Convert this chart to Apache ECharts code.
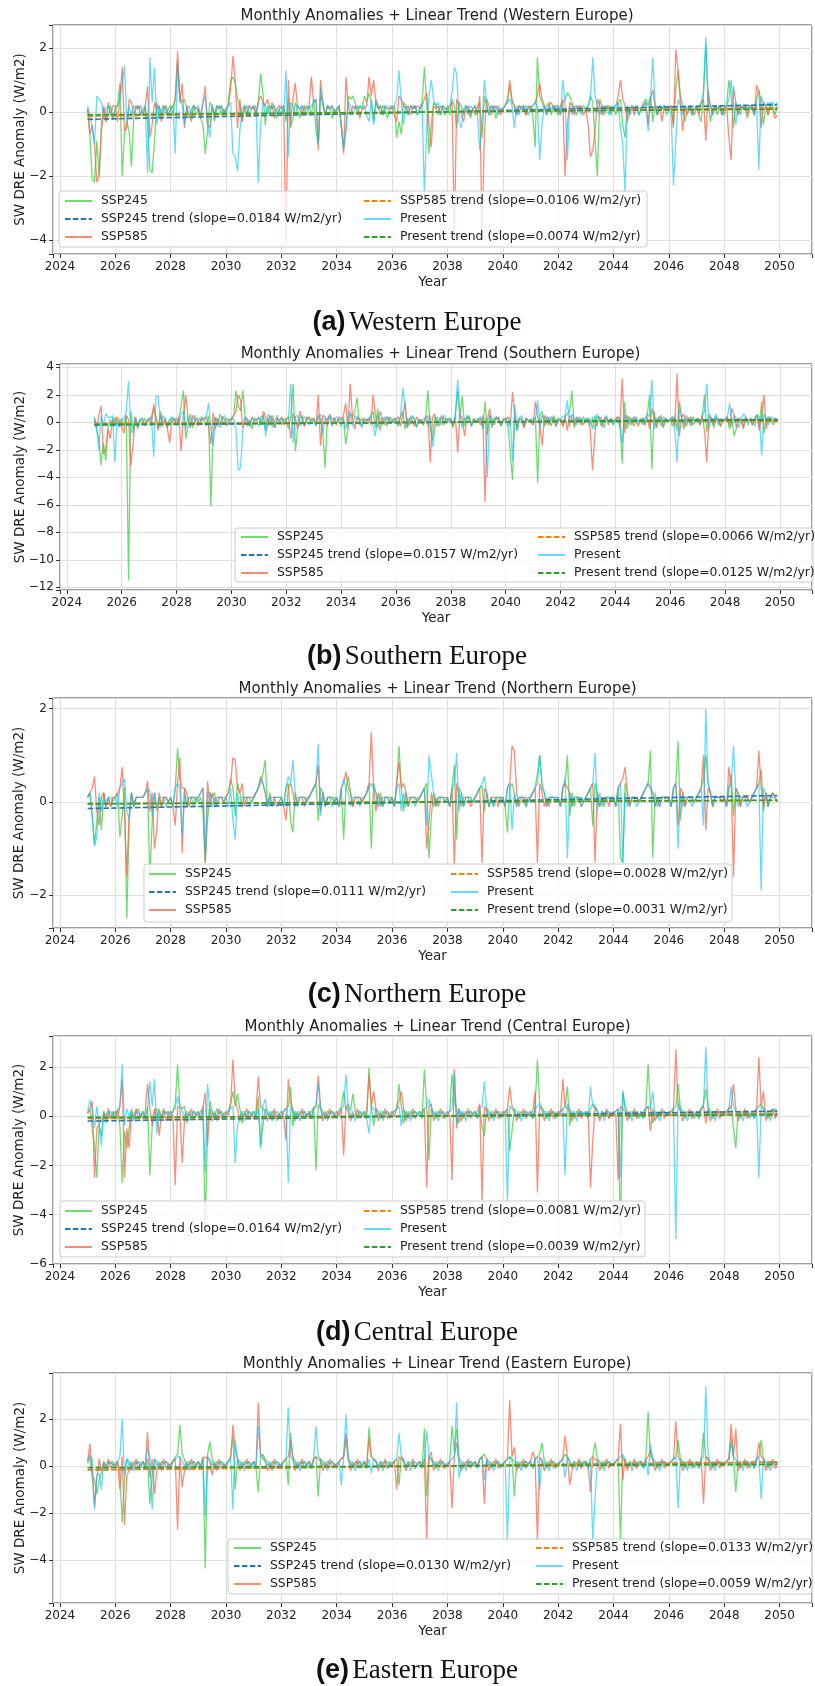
<!DOCTYPE html>
<html>
<head>
<meta charset="utf-8">
<script src="https://cdn.jsdelivr.net/npm/echarts@6/dist/echarts.min.js"></script>
<style>
  html, body { margin: 0; padding: 0; background: #fff; }
  #chart { width: 815px; height: 1686px; }
</style>
</head>
<body>
<div id="chart"></div>
<script>
// monthly anomalies, Jan 2025 .. Dec 2049, 12 values per year
const startYear = 2025;
const seriesNames = ['SSP245', 'SSP585', 'Present'];

// (a) Western Europe
const wSsp245 = [.1,-.7,-2.1,-2.2,-.9,-2,-.4,.1,-.3,-.1,.2,-.2, .1,.2,.9,-2,-.7,-.3,-.6,-1.7,-.2,.1,.2,-.1, -.1,.2,-.3,-1.8,-1.9,-.9,.3,-.2,.1,.2,-.1,.1, .2,-.1,.4,1.6,.5,.3,.4,.1,-.2,.1,.2,-.1, .1,-.2,-.4,-1.3,-.6,.3,.2,-.3,.1,.2,-.1,.1,
  -.1,.3,1,1.1,.9,.4,.2,-.3,.1,.2,-.1,.1, .2,-.1,.3,1.2,.6,-.4,.2,-.1,.3,.1,-.2,.1, -.1,.2,-.3,.4,-.5,-.2,.3,.1,-.2,.2,.1,-.1, .2,-.1,.4,-.6,-1,.5,.3,-.1,.2,.1,-.2,.1, -.1,.2,-.5,-1.1,-.6,.5,.4,.5,.3,-.1,.2,.1,
  .5,.3,.6,.3,-.3,.4,.2,-.1,.2,.1,-.2,.1, .1,.2,-.8,-.3,-.7,.3,.2,-.1,.2,.1,.2,-.1, .1,.3,1.4,.3,-1.3,-.4,.3,.2,-.1,.2,.1,-.1, .2,-.1,.4,.2,-.5,.3,.2,-.1,.2,.1,-.2,.1, -.1,.2,.3,-.8,.5,.2,-.1,.2,.1,-.2,.1,.1,
  .1,.2,.4,.8,.3,.2,-.1,.2,.1,.2,-.1,.1, .2,-.1,-1.1,1.7,.5,.3,.1,.2,.3,-.1,.2,.1, -.1,.2,.3,.4,.6,.5,.3,.1,-.1,.2,.1,.2, .1,.2,.5,.3,-.9,-2,.4,.2,-.1,.2,.1,-.1, .2,-.1,.3,.4,-.4,-.8,.2,-.1,.2,.1,.2,-.1,
  .1,.3,.4,.2,.5,-.3,.2,-.1,.2,.1,.2,-.1, .1,.2,-.4,.7,1.3,.5,.2,-.3,.1,.2,-.1,.1, .2,-.1,-.3,.6,2.1,.4,-.3,.1,.2,-.1,.2,.1, -.1,.2,1,.5,-.5,.3,-.1,.2,.1,.2,-.2,.1, .2,-.1,.4,.7,.3,-.4,.2,-.1,.3,.2,-.1,.2];
const wSsp585 = [.1,-.7,-.4,-1,-2.2,-2,-.6,.2,-.3,.3,-.1,.2, .2,-.3,.5,1.4,-.6,-.5,.4,.3,-.1,.2,.1,.2, -.1,.2,.8,-.8,-.4,.3,.1,.2,-.3,.1,.2,-.1, .1,.2,.4,1.9,.3,.9,-.5,.2,-.1,-.3,.2,.1, .1,-.2,.3,.8,-.4,-.5,.2,-.1,.2,.1,.2,-.1,
  .1,.2,.7,1.75,1,-.5,.4,-.3,.2,-.1,.2,.1, .2,-.1,.3,.5,.3,.2,.4,.1,.2,-.2,.1,.2, .1,.2,-4.2,1,-.4,.4,.9,.2,.1,-.1,.2,.1, .2,1.1,.3,.4,-1.2,1,.3,-.1,.2,.1,.2,-.1, .1,.2,-.4,-1.3,1.1,.2,-.1,.2,.1,.2,-.2,.1,
  .1,.2,1.1,.5,1,.3,.1,.2,-.1,.2,.1,.1, .2,-.1,-.3,.5,.4,.2,.1,.2,-.1,.2,.1,.2, .1,.2,.4,.6,-.4,-1.1,.2,.1,.2,-.1,.2,.1, .1,.2,.3,-4,.4,.2,-.1,-.3,.1,.2,-.1,.1, .2,-.1,.5,-4,-.7,.4,.2,-.1,.2,.1,.2,-.1,
  .1,.2,.3,1,.4,.2,-.1,.2,.1,.2,-.1,.2, .1,.2,.3,.5,.9,.4,.2,-.1,.2,.3,.1,.2, .2,-.1,.4,-2,-.4,.3,.2,-.1,.2,.1,.2,-.1, .1,-.4,-1.4,-1.2,-.6,.4,.2,-.1,.2,.1,.2,.1, .1,.2,.5,1,.4,.2,-.3,.1,.2,-.1,.2,.1,
  .1,.2,.3,-.4,.4,.7,.2,-.1,.2,-.3,.2,.1, .1,.2,-.5,1.95,1.3,.3,-.6,.2,-.1,.2,.1,-.1, .2,-.1,.3,.4,-.9,.7,.2,-.1,.2,.1,.2,-.1, .1,.2,-.8,-1.5,.8,.3,-.1,.2,.1,.2,-.1,.2, .2,-.1,.85,.6,-.5,.3,.2,-.1,.2,.1,-.2,-.1];
const wPresent = [.2,-.1,-.5,-1,.5,.4,.3,-.2,.1,.2,-.1,-.2, .1,.2,.4,.9,1.45,-.3,.2,-.1,.2,.1,.2,-.1, .1,.2,-1.9,1.7,.3,1.4,-.4,.2,-.1,.2,.1,-.1, .1,.2,-1.3,1.5,.4,.2,-.4,.1,.2,-.1,.2,.1, .2,-.1,.3,.5,-.4,-.8,.2,-.1,.2,.1,.2,-.1,
  .1,.2,.3,-1.3,-1.4,-1.85,-.6,.1,.2,-.1,.2,.1, .1,.2,-2.2,-.4,.3,.2,-.1,.2,.1,.2,-.1,.1, .2,-.1,1.3,-1.4,.3,.2,-.1,.2,.1,.2,-.1,.2, .1,.2,.3,.4,-1,.75,.2,-.1,.2,.1,.2,-.1, .1,.2,-.4,-1.2,-.5,.3,.2,-.1,.2,.1,.2,.1,
  .2,-.1,-.3,.4,-.4,.3,.1,.2,-.1,.2,.1,.2, .1,.2,.4,1.3,.3,-.4,.2,-.1,.2,.1,.2,-.1, .1,.3,-2.6,-.5,.5,1,.4,.2,.3,-.1,.2,.1, .1,.2,.6,1.4,1.2,-.3,-.5,.1,.2,-.1,.2,.1, .2,-.1,-1.2,-.4,1,.3,-.1,.2,.1,.2,-.1,.1,
  .1,.2,.3,.4,.2,-.5,.2,-.1,.2,.1,.2,-.1, .1,.2,.3,.2,-1.5,-.4,.2,-.1,.2,.1,.2,.1, .2,-.1,1,.3,-1.5,.2,-.1,.2,.1,.2,-.1,.1, .1,.2,.4,1.7,.5,.2,-.1,.2,.1,.2,-.1,.2, .1,.2,.3,-.5,-1,-2.5,.2,-.1,.2,.1,.2,-.1,
  .1,.2,.3,-.6,.4,1.7,.3,-.1,.2,.1,.2,.1, .2,-.1,-2.3,-.9,.4,.2,-.1,.2,.1,.2,-.1,.1, .1,.2,.3,.6,2.35,.4,.2,-.1,.2,.1,.2,-.1, .1,.2,.4,1,.3,-.4,.2,-.1,.2,.1,.2,.1, .2,-.1,.3,-1.8,.5,.3,.2,.3,.2,.3,.2,.3];
const wTrend245 = [-0.23, 0.23];
const wTrend585 = [-0.13, 0.13];
const wTrendPresent = [-0.09, 0.09];
const wSlopes = ['0.0184', '0.0106', '0.0074'];

// (b) Southern Europe
const sSsp245 = [.3,-.5,-1.2,-3.1,-1.5,-2.8,-.4,.2,-.3,.4,-.2,.1, .2,-.3,.5,-11.5,.8,-.6,.3,-.5,.2,-.2,.3,0, .1,.4,1,.3,-.6,.8,-.2,.3,-.4,.2,0,.3, -.2,.3,1.2,2.3,-1.2,-.3,.6,-.4,.2,.3,-.2,.4, .2,-.3,.5,-6.1,-.8,.4,-.3,.6,.2,-.2,.3,.1,
  .3,.5,2.3,1.2,.8,2.3,.4,-.3,.2,-.5,.3,.2, -.3,.4,.5,-.6,.3,-.2,.5,-.4,.3,.1,-.2,.3, .2,-.5,.4,2.8,-2.1,-.4,.3,.5,-.3,.2,.4,-.1, .3,-.2,.5,.2,-.8,-3.3,.3,.4,-.2,.3,0,.2, -.3,.4,-1.6,-.5,.6,.4,.8,1.8,-.2,.3,-.1,.2,
  .1,.5,.8,-.4,1,-.6,.3,.2,-.3,.4,.2,0, .2,-.3,.4,.8,-.5,.3,-.2,.4,.3,-.4,.2,.1, -.2,.3,2.3,-.5,-1.3,.4,.2,-.3,.5,.2,-.1,.3, .2,-.4,.6,2.3,.4,1.9,-.3,.5,.2,-.2,.3,0, .1,.3,-.4,1.5,-.9,.5,.3,-.2,.4,.1,-.3,.2,
  .3,-.2,-2.2,-4.2,.5,-.6,.3,.2,-.4,.3,.1,.2, -.2,.4,-4.4,.5,.8,-.3,.4,.2,-.3,.5,.1,.3, .2,-.3,.4,.6,.8,2.3,-.4,.3,.2,-.2,.4,.1, .3,.2,-.5,.5,-.3,.4,.2,-.4,.3,.1,.2,-.2, .1,.4,.3,-3,1.5,-.5,.4,.2,-.3,.3,.1,.2,
  -.2,.3,.6,2,-3.4,.8,-.3,.4,.2,-.4,.3,0, .2,-.3,.5,-.6,1.5,.4,-.5,.3,.2,-.2,.4,.1, .3,-.2,.4,2,-.7,.6,.3,-.4,.2,.3,-.3,.2, .1,.4,-.5,.3,-1,-.4,.3,.2,-.3,.4,.1,.2, -.2,.3,.6,-.4,1.5,-.8,.3,.4,.2,-.2,.3,.1];
const sSsp585 = [.2,-.4,.5,1.2,-2.3,-2,-.5,-1.2,.3,-.2,.4,.1, -.3,-.8,.5,.2,-3.2,-1.5,.4,-.3,.2,.3,-.2,.1, .3,-.2,1.3,.4,-.5,.6,-.3,.2,-.5,-1.5,.3,.2, -.2,.4,-2.1,.5,2,.3,-.4,.5,.2,-.3,.3,.1, .2,.4,-.3,-1.6,.7,-.5,.3,-.2,.4,.2,-.3,.2,
  .1,.5,.8,2,1.6,-.4,.3,.2,-.3,.4,.1,.2, .3,-.2,.8,.4,-.3,.5,.2,-.4,.3,.1,.4,-.2, .2,.4,-1.2,.6,.3,-.5,.8,.2,-.3,.4,.2,.1, .3,-.2,2,-1.7,.5,.4,-.3,.6,.2,.3,-.2,.4, .2,.5,1.4,-.4,2.8,.3,-.5,.4,.2,-.3,.3,.1,
  .3,-.2,2,.5,-.4,.8,.3,-.2,.4,.2,-.1,.3, .2,.4,-.3,.6,1.5,-.4,.3,.2,-.3,.4,.1,.2, -.2,.3,.5,-2.9,.4,.6,-.3,.2,.4,-.2,.3,.1, .2,-.3,.4,-2.2,.6,.3,-1,.2,.4,-.3,.2,.1, .3,-.2,.5,-5.8,.2,1,-.4,.3,.2,.4,-.2,.1,
  .2,.4,-.3,2.2,.5,-.5,.3,.2,-.4,.3,.1,.2, -.2,1.5,.4,-.3,-1.7,.5,.3,-.2,.4,.2,-.3,.1, .2,-.3,.4,-.6,.5,.3,-.2,.4,.1,.3,-.2,.2, .1,-.5,-3.5,-1,.4,.3,-.3,.2,.4,-.2,.3,.1, .2,.4,-.3,3.2,-.8,.5,.3,-.2,.4,.1,-.3,.2,
  .3,-.2,.4,-.5,1,.3,-.4,.2,.5,-.3,.2,.1, .2,.4,-.3,3.5,-1,.4,.6,-.3,.2,.4,-.2,.1, .3,-.2,.5,-.6,-2.9,.4,.3,-.2,.4,.2,-.3,.1, .2,.4,-.3,1,.5,-.4,.3,.2,-.5,.3,.1,.2, -.2,.3,.5,-.6,.4,2,-.5,.3,.2,.1,0,.1];
const sPresent = [.4,-.3,-2,.5,-.2,.6,.4,.3,.5,-2.9,.2,-.4, .3,.2,.8,3,-.5,-.8,.4,-.3,.2,.3,-.2,.1, .2,.4,-2.5,1.9,1.9,-.4,.5,.3,-.3,.2,.4,.1, .3,-.2,.6,.8,-.5,.4,-.3,.2,.5,.1,-.2,.3, .2,.4,1.4,-.3,-1.7,.3,.2,-.4,.3,.5,-.2,.1,
  .3,.2,-.5,-3.5,-3.3,-.6,.4,.2,-.3,.3,.1,.2, .4,-.2,.5,-1,.6,.3,-.4,.2,.5,-.2,.3,.1, .2,.3,2.8,-1.5,.4,.5,-.3,.2,.4,.1,-.2,.3, .2,-.3,.4,.6,-.8,.3,.2,.5,-.3,.2,.4,.1, .3,.2,-.5,.4,.8,-.3,.5,.2,.3,-.4,.2,.1,
  .2,.4,-.3,-1,.5,.3,-.2,.4,.2,.3,-.1,.2, .3,-.2,.5,2.5,1,-.4,.3,.5,.2,-.3,.2,.1, .2,.4,-.3,.5,-1.8,-.5,.4,.3,-.2,.5,.2,.1, .3,-.2,.6,3.1,.5,-.4,.3,.2,.5,-.3,.2,.1, .2,.4,-.5,.3,-4,.5,-.3,.2,.4,.1,-.2,.3,
  .2,-.3,.4,-2.8,1.3,-.6,.3,.5,-.2,.3,.1,.2, .3,.2,1.6,-.4,.5,.3,-.2,.4,.1,.3,-.3,.2, .2,.4,.5,1.6,-.3,.6,.3,-.2,.4,.2,.1,.2, .3,-.2,.4,-.5,.6,.3,-.3,.2,.5,.1,.3,-.2, .2,.3,-.4,-1.5,.5,.4,-.2,.3,.2,.4,-.1,.2,
  .3,-.2,.6,.4,3.1,-.5,.3,.2,-.3,.4,.2,.1, .2,.4,-.5,-2.9,1,.3,-.2,.5,.3,-.3,.2,.1, .3,-.2,.5,.8,2.8,-.4,.3,.2,.6,-.2,.3,.1, .2,.4,1.4,-.3,.5,.3,-.4,.2,.6,.4,-.2,.3, .2,-.3,.5,.4,-2.4,.6,.3,-.2,.4,.3,.1,.2];
const sTrend245 = [-0.2, 0.2];
const sTrend585 = [-0.08, 0.08];
const sTrendPresent = [-0.16, 0.16];
const sSlopes = ['0.0157', '0.0066', '0.0125'];

// (c) Northern Europe
const nSsp245 = [.1,.2,-.3,-.9,-.4,.1,-.6,.2,-.1,.1,-.1,.1, .1,.2,-.75,-.3,.3,-2.5,-.4,.2,-.1,.1,.1,.1, .1,.2,.25,-1.7,-.4,.2,-.2,.1,-.1,.1,.1,0, .1,-.1,.3,1.15,.5,.3,.3,-.1,.1,.1,-.1,.1, 0,.1,-.2,-1.3,-.4,.2,.1,.2,-.1,.1,.1,0,
  .1,.2,.5,.3,-.3,.4,.2,-.1,.1,.1,.1,0, .1,.2,.3,.4,.6,.9,-.1,.2,-.1,.1,.1,.1, .1,-.1,.3,.4,-.4,-.65,.2,-.1,.1,.1,.1,0, .1,.2,.3,.4,-.4,.3,.2,-.1,.1,.1,-.1,.1, .1,-.1,.3,-.8,.3,.55,.2,-.1,.1,.1,.1,0,
  .1,.2,.4,-1,.4,.2,-.1,.2,-.1,.1,.1,.1, .1,-.1,.4,1.2,.3,-.2,.2,-.1,.1,.1,.1,0, .1,.2,.3,.4,-1.2,-.3,.2,-.1,.1,.1,.1,0, .1,-.1,.3,.8,-.8,.3,.2,-.1,.1,.1,.1,0, .1,.2,.3,.35,-.2,.2,-.1,.1,-.1,.1,.1,0,
  .1,-.1,-.65,.3,.4,.2,-.1,.1,.1,.1,-.1,.1, .1,.2,.3,.6,1,.4,.2,-.1,.1,.1,.1,0, .1,-.1,.3,.4,1,-.3,.2,-.1,.1,.1,.1,0, .1,.2,.3,-.5,.4,.2,-.1,.1,-.1,.1,.1,.1, .1,-.1,.3,-1.2,-1.3,.4,.2,-.1,.1,.1,.1,0,
  .1,.2,.3,.4,1.1,-1.2,.2,-.1,.1,.1,.1,0, .1,-.1,.3,.4,1.3,-.4,.2,-.1,.1,.1,.1,0, .1,.2,.3,.5,1,.4,.2,-.1,.1,.1,.1,0, .1,-.1,.3,.6,-.3,.3,.2,-.1,.1,.1,.1,0, .1,.2,.3,.4,.7,-.2,.2,-.1,.1,.2,.1,0];
const nSsp585 = [.1,.2,.3,.55,-.2,-.5,.1,.2,-.1,.1,-.1,.1, .1,.2,.3,.75,-.3,-1.6,-.3,.2,-.1,.1,.1,.1, .1,.2,.45,-.2,.2,-1,-.6,.2,-.1,.1,.1,0, .1,-.1,-.5,.4,.95,-1.1,.3,.2,-.1,.1,.1,.1, .1,.2,.3,-1.3,.45,-.1,.2,-.1,.1,.1,.1,0,
  .1,.2,.4,.95,.9,.3,.2,.4,-.1,.1,.1,.1, .1,.2,.3,.55,.4,.2,-.1,.1,.1,.1,-.1,0, .1,-.1,-.4,.3,.4,.2,-.1,.1,.1,.1,-.1,.1, .1,.2,.3,.4,.8,-.2,.2,-.1,.1,.1,.1,0, .1,-.1,.3,.4,.65,.3,.2,-.1,.1,.1,.1,0,
  .1,.2,.4,1.5,.3,-.2,.2,-.1,.1,.1,.1,0, .1,-.1,.4,.85,.3,.4,.2,-.1,.1,.1,.1,0, .1,.2,.3,-1,-.4,.2,-.1,.1,-.1,.1,.1,.1, .1,-.1,.3,-1.4,.4,.2,-.1,.1,.1,.1,-.1,0, .1,.2,.3,-1.3,.3,.2,-.1,.1,.1,.1,-.1,.1,
  .1,-.1,.3,.4,1.2,1.1,.2,-.1,.1,.1,.1,0, .1,.2,.3,-1.3,.4,.2,-.1,.1,-.1,.1,.1,.1, .1,-.1,.3,.4,.3,.2,-.1,.1,.1,.1,-.1,0, .1,.2,.3,.4,-1.3,.2,-.1,.1,.1,.1,-.1,.1, .1,-.1,.3,.4,.5,.75,.2,-.1,.1,.1,.1,0,
  .1,.2,.3,.4,.3,.2,-.1,.1,-.1,.1,.1,.1, .1,-.1,.3,.4,-.5,.3,.2,-.1,.1,.1,.1,0, .1,.2,.3,1,-.6,.3,.2,-.1,.1,.1,.1,0, .1,-.1,.75,.4,-1.6,.3,.2,-.1,.1,.1,.1,0, .1,.2,.3,1.1,.3,-.1,.2,-.1,.1,.2,.1,0];
const nPresent = [.1,.2,-.3,-.95,-.75,.2,-.2,.1,-.1,.1,.1,0, .1,-.1,.3,.4,.5,-.2,-.35,.2,-.1,.1,.1,.1, .1,.2,.3,.25,-.3,.2,-.1,.1,.1,.1,-.1,0, .1,-.1,.3,.4,.3,-.7,.2,-.1,.1,.1,.1,0, .1,.2,.3,-1.2,.2,.2,-.1,.1,-.1,.1,.1,.1,
  .1,-.1,.3,-.4,-.8,.2,-.1,.1,.1,.1,-.1,0, .1,.2,.3,.5,.4,.2,-.1,.1,-.1,.1,.1,.1, .1,-.1,.3,.55,.4,.9,.2,-.1,.1,.1,.1,0, .1,.2,.3,.4,1.25,-.3,.2,-.1,.1,.1,.1,0, .1,-.1,.3,.5,.3,.2,-.1,.1,.1,.1,-.1,.1,
  .1,.2,.3,.4,.3,.2,-.1,.1,-.1,.1,.1,0, .1,-.1,.3,.4,-.2,.2,-.1,.1,.1,.1,-.1,.1, .1,.2,.3,-.5,1,.6,.2,-.1,.1,.1,.1,0, .1,-.1,.3,.4,1.05,-.2,.2,-.1,.1,.1,.1,0, .1,.2,.3,.4,.55,.2,-.1,.1,-.1,.1,.1,.1,
  .1,-.1,.3,.4,-.6,.2,-.1,.1,.1,.1,-.1,0, .1,.2,.3,.4,1,.3,.2,-.1,.1,.1,.1,.1, .1,-.1,.3,.5,-1.2,.2,-.1,.1,.1,.1,-.1,0, .1,.2,.3,.4,1.05,-.2,.2,-.1,.1,.1,.1,.1, .1,-.1,.3,.4,-1.3,.2,-.1,.1,.1,.1,-.1,0,
  .1,.2,.3,.4,.3,.2,-.1,.1,-.1,.1,.1,.1, .1,-.1,.3,.4,-1,.2,-.1,.1,.1,.1,-.1,0, .1,.2,.3,-.5,2,.4,.2,-.1,.1,.1,.1,.1, .1,-.1,.3,.4,1.2,.2,-.1,.1,.1,.1,-.1,0, .1,.2,.3,.4,-1.9,.3,.2,-.1,.1,.1,.1,.1];
const nTrend245 = [-0.14, 0.14];
const nTrend585 = [-0.035, 0.035];
const nTrendPresent = [-0.04, 0.04];
const nSlopes = ['0.0111', '0.0028', '0.0031'];

// (d) Central Europe
const cSsp245 = [.1,.3,-.5,-1.2,-2.5,-.4,-.8,.2,-.3,.2,-.1,.2, -.1,.3,-.4,-2.7,-.6,-1.3,-.5,.3,-.1,.2,.3,-.1, .2,-.1,.4,-2.4,-.4,.3,-.2,.3,-.1,.2,.1,.2, -.1,.2,.5,2.1,.4,.3,.4,-.3,.2,-.1,.2,.1, .2,-.1,.4,-4.5,-.5,.6,.2,-.1,.3,.1,.2,-.1,
  .1,.2,.5,1,.4,.9,.3,-.3,.2,-.1,.2,.1, .2,-.1,.8,-1.3,-.4,.3,.2,-.1,.2,.1,-.2,.1, -.1,.2,.3,.4,1.2,-.4,.2,-.1,.2,.1,.2,-.1, .2,-.1,.4,-2.2,.5,.3,.2,-.1,.2,.1,.2,.1, -.1,.2,.4,1,.3,.5,.2,.9,.2,-.1,.2,.1,
  .2,-.1,1.95,.4,-.4,.3,.2,-.1,.2,.1,.2,-.1, .1,.2,.3,1.3,.4,-.3,.2,-.1,.2,.1,.2,.1, .2,-.1,1.9,.4,-1.8,.3,.2,-.1,.2,.1,.2,-.1, .1,.2,1.7,.6,.3,-.3,.2,-.1,.2,.1,.2,.1, .2,-.1,.3,-.4,-.8,.3,.2,-.1,.2,.1,.2,-.1,
  .1,.2,.3,-1.4,-.6,.3,.2,-.1,.2,.1,.2,.1, .2,-.1,.4,2.3,.5,.3,.2,-.1,.2,.1,.2,-.1, .1,.2,.3,.4,1.2,-.4,.2,-.1,.2,.1,.2,.1, .2,-.1,.3,.5,.4,.2,-.1,.2,.1,.2,-.1,.1, .1,.2,.3,-4.9,1,.4,.2,-.1,.2,.1,.2,-.1,
  .2,-.1,.3,2.1,.4,-.3,.2,-.1,.2,.1,.2,.1, .1,.2,.3,.4,1.3,.3,.2,-.1,.2,.1,.2,-.1, .2,-.1,.3,.5,1.1,.4,.2,-.1,.2,.1,.2,.1, .1,.2,.3,.4,-.5,-1.3,.2,-.1,.2,.1,.2,-.1, .2,-.1,.3,.4,.5,.3,.2,-.1,.2,.3,.2,.1];
const cSsp585 = [.1,.3,.6,-2.5,-.5,-.3,-.2,.1,0,.3,-.1,.1, .2,-.1,.4,1.5,-2.5,-.5,-1.3,.1,0,.3,-.1,.1, -.1,.2,1.3,.3,-.4,.2,.3,-.8,0,.3,-.2,.1, .2,0,-2.8,.4,.3,-1.9,-.2,.1,0,.3,-.1,.1, 0,.2,.3,.95,-1.2,.3,-.2,.1,0,.3,-.1,.1,
  .2,0,.5,2.3,.6,.3,-.2,.1,0,.3,-.1,.1, -.1,.2,1.6,.4,.3,.2,-.2,.1,0,.3,-.1,.1, .2,0,-1,1.5,.5,.3,-.2,.1,0,.3,-.1,.1, 0,.2,.3,.4,1.65,.4,-.2,.1,0,.3,-.1,.1, .2,0,.3,-1.6,.4,.2,-.2,.1,0,.3,-.1,.1,
  0,.2,1.7,.4,1,.3,-.2,.1,0,.3,-.1,.1, .2,0,.3,.6,1,.3,-.2,.1,0,.3,-.1,.1, 0,.2,.3,-2.9,.4,.5,-.2,.1,0,.3,-.1,.1, .2,0,-2.6,1.9,-.5,.3,-.2,.1,0,.3,-.1,.1, 0,.2,.5,-3.4,.4,.2,-.2,.1,0,.3,-.1,.1,
  .2,0,.3,1.2,.4,.2,-.2,.1,0,.3,-.1,.1, 0,.2,1,-3.1,.4,.3,-.2,.1,0,.3,-.1,.1, .2,0,1.5,.4,.3,.2,-.2,.1,0,.3,-.1,.1, 0,.2,-2.9,-1,.4,.2,-.2,.1,0,.3,-.1,.1, .2,0,-2.6,.4,.3,.2,-.2,.1,0,.3,-.1,.1,
  0,.2,.3,.4,-.6,.3,-.2,.1,0,.3,-.1,.1, .2,0,.3,2.7,.4,.2,-.2,.1,0,.3,-.1,.1, 0,.2,.3,.4,-.3,.3,-.2,.1,0,.3,-.1,.1, .2,0,.3,.4,1.3,.3,-.2,.1,0,.3,-.1,.1, 0,.2,.3,2.4,.4,1,-.2,.1,0,.3,-.1,.1];
const cPresent = [.2,.65,.3,-.5,.4,-.3,-1.2,.2,-.2,.1,.2,0, .1,.2,.4,2.1,-.4,.3,0,.2,-.2,.1,.2,0, .2,-.1,.3,1.4,.4,1.5,-.7,.2,-.2,.1,.2,0, .1,.2,.3,.8,.4,.2,0,.2,-.2,.1,.2,0, .2,-.1,.3,-2.3,1.3,.3,0,.2,-.2,.1,.2,0,
  .1,.2,.3,.4,-1.9,-.4,0,.2,-.2,.1,.2,0, .2,-.1,.3,-1.2,.4,.7,0,.2,-.2,.1,.2,0, .1,.2,.3,-2.7,.4,.2,0,.2,-.2,.1,.2,0, .2,-.1,.3,.4,1.3,.3,0,.2,-.2,.1,.2,0, .1,.2,.3,.4,1.7,.3,0,.2,-.2,.1,.2,0,
  .2,-.1,-.7,.4,.3,.2,0,.2,-.2,.1,.2,0, .1,.2,.3,.4,-.4,.3,0,.2,-.2,.1,.2,0, .2,-.1,.3,.4,.7,.3,0,.2,-.2,.1,.2,0, .1,.2,.3,1.8,-.3,.3,0,.2,-.2,.1,.2,0, .2,-.1,.3,.4,1.4,.3,0,.2,-.2,.1,.2,0,
  .1,.2,-3.5,.4,.3,.2,0,.2,-.2,.1,.2,0, .2,-.1,.3,.4,.5,.3,0,.2,-.2,.1,.2,0, .1,.2,.3,-2.4,.5,.3,0,.2,-.2,.1,.2,0, .2,-.1,1.2,.4,.3,.2,0,.2,-.2,.1,.2,0, .1,.2,.3,-2.5,1,.3,0,.2,-.2,.1,.2,0,
  .2,-.1,.3,.4,.3,1,0,.2,-.2,.1,.2,0, .1,.2,.3,-5,.6,.3,0,.2,-.2,.1,.2,0, .2,-.1,.3,.4,2.8,.3,0,.2,-.2,.1,.2,0, .1,.2,.3,1.2,.4,.2,0,.2,-.2,.1,.2,0, .2,-.1,.3,-2.5,.4,.3,0,.2,-.2,.1,.3,.2];
const cTrend245 = [-0.2, 0.2];
const cTrend585 = [-0.1, 0.1];
const cTrendPresent = [-0.05, 0.05];
const cSlopes = ['0.0164', '0.0081', '0.0039'];

// (e) Eastern Europe
const eSsp245 = [.1,.4,-.4,-.6,-1.2,-.6,-.3,.2,-.1,.2,.1,.2, -.1,.2,-.4,-2.4,-.6,.3,.2,-.1,.2,.1,.2,-.1, .2,-.1,.3,-1.6,-.4,.3,.2,-.1,.2,.1,.2,.1, -.1,.2,.4,.5,1.75,.5,.3,-.1,.2,.1,.2,-.1, .2,-.1,.4,-4.35,.5,1.05,.3,-.1,.2,.1,.2,.1,
  -.1,.2,.4,1.3,-1,.3,.2,-.1,.2,.1,.2,-.1, .2,-.1,-1.1,.4,.5,.3,.2,-.1,.2,.1,.2,.1, -.1,.2,.3,-.8,1.4,.4,.2,-.1,.2,.1,.2,-.1, .2,-.1,.3,.4,-1.3,.3,.2,-.1,.2,.1,.2,.1, -.1,.2,.3,.4,1.1,.3,.2,-.1,.2,.1,.2,-.1,
  .2,-.1,1.65,.4,.3,.2,-.1,.2,.1,.2,-.1,.2, .1,.2,.3,-.8,.4,.2,-.1,.2,.1,.2,-.1,.1, .2,-.1,1.6,-1.3,.4,.3,.2,-.1,.2,.1,.2,-.1, .1,.2,1.7,.6,1.6,.3,.2,-.1,.2,.1,.2,.1, .2,-.1,.3,.4,.5,.3,.2,-.1,.2,.1,.2,-.1,
  .1,.2,.3,.4,.3,-1.3,.2,-.1,.2,.1,.2,.1, .2,-.1,.3,.4,.5,1,.2,-.1,.2,.1,.2,-.1, .1,.2,.3,.5,.4,.2,-.1,.2,.1,.2,-.1,.2, .2,-.1,.3,.4,1,.3,.2,-.1,.2,.1,.2,.1, .1,.2,.3,-3.2,.4,.2,-.1,.2,.1,.2,-.1,.2,
  .2,-.1,.3,2.3,.4,.3,.2,-.1,.2,.1,.2,.1, .1,.2,.3,.4,1.1,.3,.2,-.1,.2,.1,.2,-.1, .2,-.1,.3,1.4,.4,.3,.2,-.1,.2,.1,.2,.1, .1,.2,.3,1.2,.4,-1.1,.2,-.1,.2,.1,.2,-.1, .2,-.1,.3,.4,1.1,.3,.2,-.1,.2,.1,.2,.1];
const eSsp585 = [.2,.95,-.4,-1.7,-.5,.3,-.2,.1,0,.3,-.1,.1, 0,.2,-1,.4,-2.5,-.4,-.2,.1,0,.3,-.1,.1, .2,0,1.45,-.5,.3,-1.2,-.2,.1,0,.3,-.1,.1, 0,.2,.3,-2.7,.4,-.9,-.2,.1,0,.3,-.1,.1, .2,0,.3,.4,.3,.2,-.4,.1,0,.3,-.1,.1,
  0,.2,.3,1.75,.7,.3,-.2,.1,0,.3,-.1,.1, .2,0,2.7,.5,.4,.2,-.2,.1,0,.3,-.1,.1, 0,.2,.3,.4,1.1,.3,-.2,.1,0,.3,-.1,.1, .2,0,.3,.4,.3,.2,-.2,.1,0,.3,-.1,.1, 0,.2,.3,.4,1.4,.3,-.2,.1,0,.3,-.1,.1,
  .2,0,1.2,.4,.3,.2,-.2,.1,0,.3,-.1,.1, 0,.2,-1,.4,.3,.2,-.2,.1,0,.3,-.1,.1, .2,0,.3,-3.1,.4,.6,-.2,.1,0,.3,-.1,.1, 0,.2,-1.8,.4,1,.3,-.2,.1,0,.3,-.1,.1, .2,0,.3,.4,-1.6,.3,-.2,.1,0,.3,-.1,.1,
  0,.2,.3,2.8,.4,.8,-.2,.1,0,.3,-.1,.1, .2,.6,.3,-3.2,.4,.2,-.2,.1,0,.3,-.1,.1, 0,.2,.3,1.3,.4,-.8,-.2,.1,0,.3,-.1,.1, .2,0,-1.1,.4,.3,.2,-.2,.1,0,.3,-.1,.1, 0,.2,.3,1.8,-.6,.3,-.2,.1,0,.3,-.1,.1,
  .2,0,.3,.4,.7,.3,-.2,.1,0,.3,-.1,.1, 0,.2,.3,1.9,.4,.2,-.2,.1,0,.3,-.1,.1, .2,0,.3,-1.6,.4,.3,-.2,.1,0,.3,-.1,.1, 0,.2,.3,1.8,.4,1.6,-.2,.1,0,.3,-.1,.1, .2,0,.3,1,.4,.3,-.2,.1,0,.3,-.1,0];
const ePresent = [.2,.5,.3,-1.85,-.4,-.3,-1,.2,-.2,.1,.2,0, .1,.2,.4,2,-.4,.3,0,.2,-.2,.1,.2,0, .2,-.1,.8,.4,-1.85,.3,0,.2,-.2,.1,.2,0, .1,.2,.3,.4,.4,.2,0,.2,-.2,.1,.2,0, .2,-.1,.3,-2.1,.4,.3,0,.2,-.2,.1,.2,0,
  .1,.2,.3,-1.85,1.1,.3,0,.2,-.2,.1,.2,0, .2,-.1,1.7,.4,.3,.2,0,.2,-.2,.1,.2,0, .1,.2,.3,2.5,.4,.3,0,.2,-.2,.1,.2,0, .2,-.1,.3,1.7,.4,.3,0,.2,-.2,.1,.2,0, .1,.2,-.8,.4,2.2,.3,0,.2,-.2,.1,.2,0,
  .2,-.1,.3,-.3,.3,.2,0,.2,-.2,.1,.2,0, .1,.2,.3,1.4,.4,.3,0,.2,-.2,.1,.2,0, .2,-.1,.3,1.5,.4,.3,0,.2,-.2,.1,.2,0, .1,.2,.3,.4,2.7,-.5,0,.2,-.2,.1,.2,0, .2,-.1,.3,.4,-.6,.3,0,.2,-.2,.1,.2,0,
  .1,.2,-3.2,.4,.3,.2,0,.2,-.2,.1,.2,0, .2,-.1,.3,.4,-1,.3,0,.2,-.2,.1,.2,0, .1,.2,.3,-.5,.4,.2,0,.2,-.2,.1,.2,0, .2,-.1,.3,-3.2,-1.4,.3,0,.2,-.2,.1,.2,0, .1,.2,.3,.4,.5,.3,0,.2,-.2,.1,.2,0,
  .2,-.1,.3,-.4,.9,.3,0,.2,-.2,.1,.2,0, .1,.2,.3,.4,-1.8,.3,0,.2,-.2,.1,.2,0, .2,-.1,.3,.4,3.4,.5,0,.2,-.2,.1,.2,0, .1,.2,.3,1,.4,.3,0,.2,-.2,.1,.2,0, .2,-.1,.3,.4,-1.4,.3,0,.2,-.2,.1,.2,.1];
const eTrend245 = [-0.16, 0.16];
const eTrend585 = [-0.17, 0.17];
const eTrendPresent = [-0.07, 0.07];
const eSlopes = ['0.0130', '0.0133', '0.0059'];

const trendSpan = [2025, 2049.92];

// layout of the five stacked panels
const panels = [
  { tag: '(a)', region: 'Western Europe', data: [wSsp245, wSsp585, wPresent], trends: [wTrend245, wTrend585, wTrendPresent], slopes: wSlopes,
    left: 53, top: 25, width: 768, height: 229, yMin: -4.44, yMax: 2.72, nameGap: 26, titleY: 16, captionY: 323,
    box: [59, 191, 588, 56], cols: [64, 363], row0: 201 },
  { tag: '(b)', region: 'Southern Europe', data: [sSsp245, sSsp585, sPresent], trends: [sTrend245, sTrend585, sTrendPresent], slopes: sSlopes,
    left: 60, top: 364, width: 761, height: 226, yMin: -12.2, yMax: 4.24, nameGap: 33, titleY: 354, captionY: 657,
    box: [235, 528, 578, 54], cols: [240, 537], row0: 537 },
  { tag: '(c)', region: 'Northern Europe', data: [nSsp245, nSsp585, nPresent], trends: [nTrend245, nTrend585, nTrendPresent], slopes: nSlopes,
    left: 53, top: 698, width: 769, height: 230, yMin: -2.70, yMax: 2.23, nameGap: 27, titleY: 689, captionY: 995,
    box: [144, 864, 588, 58], cols: [148, 450], row0: 874 },
  { tag: '(d)', region: 'Central Europe', data: [cSsp245, cSsp585, cPresent], trends: [cTrend245, cTrend585, cTrendPresent], slopes: cSlopes,
    left: 53, top: 1036, width: 769, height: 228, yMin: -6, yMax: 3.25, nameGap: 27, titleY: 1027, captionY: 1333,
    box: [60, 1201, 585, 56], cols: [64, 363], row0: 1211 },
  { tag: '(e)', region: 'Eastern Europe', data: [eSsp245, eSsp585, ePresent], trends: [eTrend245, eTrend585, eTrendPresent], slopes: eSlopes,
    left: 53, top: 1373, width: 768, height: 230, yMin: -5.83, yMax: 3.96, nameGap: 26, titleY: 1364, captionY: 1671,
    box: [228, 1539, 584, 55], cols: [233, 535], row0: 1548 }
];

const lineColors = ['#32cd32', '#ff6347', '#00bfff'];
const lineOpacity = [0.7, 0.75, 0.6];
const trendColors = ['#1f77b4', '#ff7f0e', '#2ca02c'];
const FONT = '"DejaVu Sans", sans-serif';

function toXY(arr) {
  return arr.map((v, i) => [startYear + i / 12, v]);
}
function evenTick(v) {
  return Math.abs(v / 2 - Math.round(v / 2)) < 1e-6;
}

const myChart = echarts.init(document.getElementById('chart'), null, { renderer: 'canvas' });

const grid = [], xAxis = [], yAxis = [], series = [], legend = [], graphic = [];

panels.forEach((p, k) => {
  grid.push({ left: p.left, top: p.top, width: p.width, height: p.height, show: true,
    borderColor: '#3c3c3c', borderWidth: 1, backgroundColor: '#fff', containLabel: false });
  xAxis.push({
    gridIndex: k, type: 'value', min: 2023.75, max: 2051.17, minInterval: 2, maxInterval: 2,
    name: 'Year', nameLocation: 'middle', nameGap: 21,
    nameTextStyle: { fontFamily: FONT, fontSize: 13.5, color: '#222' },
    axisLine: { show: false, onZero: false },
    axisTick: { show: true, length: 4, lineStyle: { color: '#333', width: 1 } },
    axisLabel: { margin: 7, fontFamily: FONT, fontSize: 12, color: '#222',
      formatter: v => (evenTick(v) ? String(Math.round(v)) : '') },
    splitLine: { show: true, lineStyle: { color: '#dedede', width: 1 } }
  });
  yAxis.push({
    gridIndex: k, type: 'value', min: p.yMin, max: p.yMax, minInterval: 2, maxInterval: 2,
    name: 'SW DRE Anomaly (W/m2)', nameLocation: 'middle', nameGap: p.nameGap, nameMoveOverlap: false,
    nameTextStyle: { fontFamily: FONT, fontSize: 13.5, color: '#222' },
    axisLine: { show: false, onZero: false },
    axisTick: { show: true, length: 4, lineStyle: { color: '#333', width: 1 } },
    axisLabel: { margin: 6, fontFamily: FONT, fontSize: 12, color: '#222',
      formatter: v => (evenTick(v) ? (v < 0 ? '\u2212' + Math.abs(Math.round(v)) : String(Math.round(v))) : '') },
    splitLine: { show: true, lineStyle: { color: '#dedede', width: 1 } }
  });

  const names = [];
  for (let s = 0; s < 3; s++) {
    const trendName = seriesNames[s] + ' trend (slope=' + p.slopes[s] + ' W/m2/yr)';
    series.push({
      name: seriesNames[s], type: 'line', xAxisIndex: k, yAxisIndex: k,
      data: toXY(p.data[s]), symbol: 'none', showSymbol: false, animation: false,
      lineStyle: { color: lineColors[s], width: 1.3, opacity: lineOpacity[s] },
      // no markers: keeps the legend icon a plain line
      itemStyle: { color: lineColors[s], opacity: 0 }, z: 2
    });
    series.push({
      name: trendName, type: 'line', xAxisIndex: k, yAxisIndex: k,
      data: [[trendSpan[0], p.trends[s][0]], [trendSpan[1], p.trends[s][1]]],
      symbol: 'none', showSymbol: false, animation: false,
      lineStyle: { color: trendColors[s], width: 1.6, type: [5.5, 2.4] },
      itemStyle: { color: trendColors[s], opacity: 0 }, z: 3
    });
    names.push(seriesNames[s], trendName);
  }

  // matplotlib ncol=2 fills column first
  const col1 = names.slice(0, 3), col2 = names.slice(3, 6);
  [col1, col2].forEach((items, c) => {
    legend.push({
      data: items, orient: 'vertical', left: p.cols[c], top: p.row0 - 7,
      itemWidth: 27, itemHeight: 14, itemGap: 4, padding: 0, selectedMode: false, z: 6,
      itemStyle: { opacity: 0 },
      textStyle: { fontFamily: FONT, fontSize: 12.4, color: '#222', lineHeight: 14, padding: [0, 0, 0, 4] }
    });
  });

  graphic.push({
    type: 'rect', z: 5, silent: true,
    shape: { x: p.box[0], y: p.box[1], width: p.box[2], height: p.box[3], r: 3 },
    style: { fill: 'rgba(255,255,255,0.8)', stroke: '#cccccc', lineWidth: 1 }
  });
  graphic.push({
    type: 'text', z: 6, x: p.left + p.width / 2, y: p.titleY,
    style: { text: 'Monthly Anomalies + Linear Trend (' + p.region + ')', font: '15px ' + FONT, fill: '#222',
      textAlign: 'center', textVerticalAlign: 'middle', align: 'center', verticalAlign: 'middle' }
  });
  graphic.push({
    type: 'text', z: 6, x: 417, y: p.captionY,
    style: {
      text: '{b|' + p.tag + '} {r|' + p.region + '}',
      textAlign: 'center', textVerticalAlign: 'middle', align: 'center', verticalAlign: 'middle',
      rich: {
        b: { fontFamily: '"Liberation Sans", sans-serif', fontWeight: 'bold', fontSize: 27, fill: '#111' },
        r: { fontFamily: '"Liberation Serif", serif', fontSize: 27, fill: '#111' }
      }
    }
  });
});

myChart.setOption({
  animation: false,
  backgroundColor: '#fff',
  grid: grid,
  xAxis: xAxis,
  yAxis: yAxis,
  legend: legend,
  series: series,
  graphic: graphic
});
</script>
</body>
</html>
